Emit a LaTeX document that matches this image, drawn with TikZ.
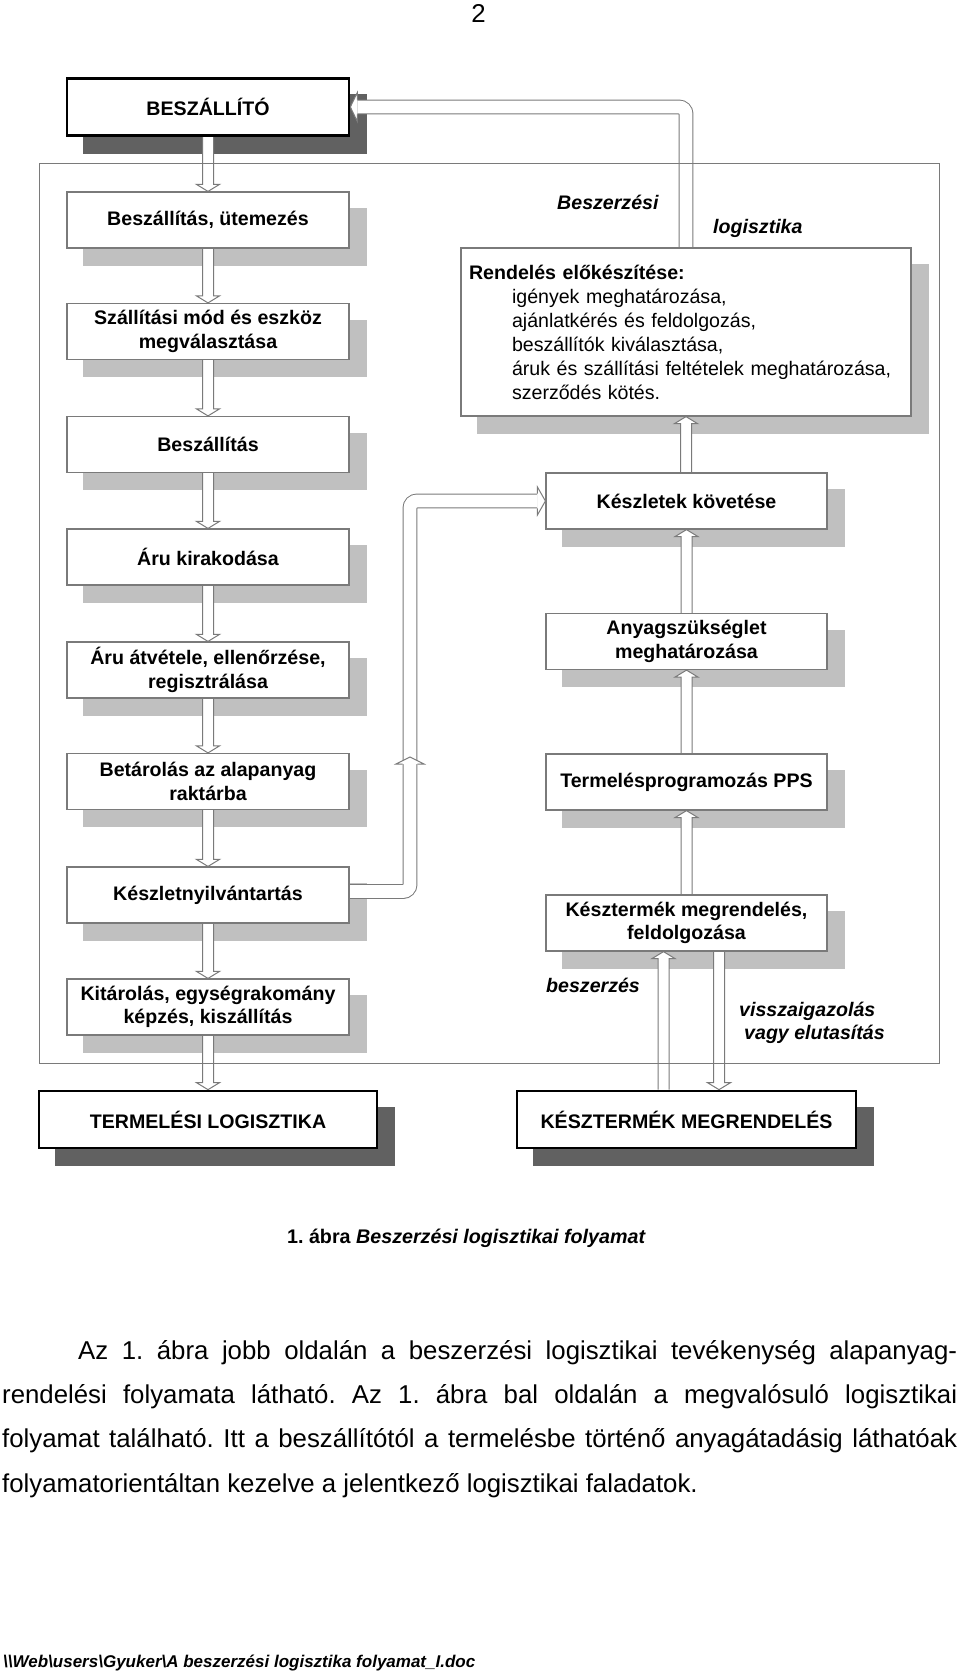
\documentclass[tikz,border=0pt]{standalone}
\usepackage{fontspec}
\setmainfont{Liberation Sans}
\usetikzlibrary{calc}
\frenchspacing
\definecolor{shl}{HTML}{C0C0C0}
\definecolor{shd}{HTML}{616161}
\definecolor{edge}{HTML}{7A7A7A}
\pgfdeclarelayer{bg}
\pgfdeclarelayer{mid}
\pgfsetlayers{bg,mid,main}
\newcommand\bxfont{\fontsize{19.6}{23.5}\selectfont\bfseries}
\newcommand\darr[2]{\draw[blk] let \p1=(#1), \p2=(#2) in (\x2-5.5pt,\y1) -- (\x2-5.5pt,\y2+7pt) -- (\x2-11.5pt,\y2+7pt) -- (\x2,\y2) -- (\x2+11.5pt,\y2+7pt) -- (\x2+5.5pt,\y2+7pt) -- (\x2+5.5pt,\y1);}
\newcommand\uarr[2]{\draw[blk] let \p1=(#1), \p2=(#2) in (\x2-5.5pt,\y1) -- (\x2-5.5pt,\y2-7pt) -- (\x2-11.5pt,\y2-7pt) -- (\x2,\y2) -- (\x2+11.5pt,\y2-7pt) -- (\x2+5.5pt,\y2-7pt) -- (\x2+5.5pt,\y1);}
\tikzset{
  box/.style={draw=edge, line width=1.2pt, fill=white, minimum width=282pt, minimum height=56pt, inner sep=0pt, align=center, font=\bxfont},
  mainbox/.style={draw=black, line width=2.7pt, fill=white, minimum height=57pt, inner sep=0pt, align=center, font=\bxfont},
  blk/.style={draw=edge, line width=1pt, fill=white, line join=miter},
  fb/.style={draw=edge, line width=1pt, double=white, double distance=12.8pt, rounded corners=7pt},
  lbl/.style={font=\fontsize{19.6}{23.5}\selectfont\bfseries\itshape, inner sep=0pt, anchor=base west},
  para/.style={font=\fontsize{25.8}{30}\selectfont, inner sep=0pt, anchor=base west},
}
\begin{document}
\begin{tikzpicture}[x=1pt,y=-1pt]
\useasboundingbox (0,0) rectangle (960,1674);
% main boxes
\node[mainbox, minimum width=282pt] (n1) at (208,107) {BESZÁLLÍTÓ};
\node[mainbox, minimum width=338pt] (tl) at (208,1119.5) {TERMELÉSI LOGISZTIKA};
\node[mainbox, minimum width=339pt] (km) at (686.5,1119.5) {KÉSZTERMÉK MEGRENDELÉS};
% left column
\node[box] (l1) at (208,220) {Beszállítás, ütemezés};
\node[box] (l2) at (208,331.5) {Szállítási mód és eszköz\\megválasztása};
\node[box] (l3) at (208,444.5) {Beszállítás};
\node[box] (l4) at (208,557) {Áru kirakodása};
\node[box] (l5) at (208,670) {Áru átvétele, ellenőrzése,\\regisztrálása};
\node[box] (l6) at (208,781.5) {Betárolás az alapanyag\\raktárba};
\node[box] (l7) at (208,895) {Készletnyilvántartás};
\node[box] (l8) at (208,1007) {Kitárolás, egységrakomány\\képzés, kiszállítás};
% right column
\node[box, minimum width=450pt, minimum height=168pt, text width=434pt, align=left, font=\fontsize{19.6}{24}\selectfont] (r0) at (686,332)
  {\textbf{Rendelés előkészítése:}\\
   \hspace*{43pt}igények meghatározása,\\
   \hspace*{43pt}ajánlatkérés és feldolgozás,\\
   \hspace*{43pt}beszállítók kiválasztása,\\
   \hspace*{43pt}áruk és szállítási feltételek meghatározása,\\
   \hspace*{43pt}szerződés kötés.};
\node[box, minimum width=281pt] (r1) at (686.5,501) {Készletek követése};
\node[box, minimum width=281pt] (r2) at (686.5,641.5) {Anyagszükséglet\\meghatározása};
\node[box, minimum width=281pt] (r3) at (686.5,782) {Termelésprogramozás PPS};
\node[box, minimum width=281pt] (r4) at (686.5,923) {Késztermék megrendelés,\\feldolgozása};
% labels
\node[lbl] (t1) at (557,209.5) {Beszerzési};
\node[lbl] (t2) at (713,233.5) {logisztika};
\node[lbl] (t3) at (546,992.5) {beszerzés};
\node[lbl] (t4) at (739,1016) {visszaigazolás};
\node[lbl] (t5) at (744,1039.5) {vagy elutasítás};
% shadows
\begin{pgfonlayer}{bg}
\foreach \n in {l1,l2,l3,l4,l5,l6,l7,l8,r0,r1,r2,r3,r4}
  \fill[shl] ([shift={(17,17)}]\n.south west) rectangle ([shift={(17,17)}]\n.north east);
\foreach \n in {n1,tl,km}
  \fill[shd] ([shift={(17,17)}]\n.south west) rectangle ([shift={(17,17)}]\n.north east);
\end{pgfonlayer}
% connectors
\begin{pgfonlayer}{mid}
\darr{n1.south}{l1.north}
\darr{l1.south}{l2.north}
\darr{l2.south}{l3.north}
\darr{l3.south}{l4.north}
\darr{l4.south}{l5.north}
\darr{l5.south}{l6.north}
\darr{l6.south}{l7.north}
\darr{l7.south}{l8.north}
\darr{l8.south}{tl.north}
\uarr{r1.north}{r0.south}
\uarr{r2.north}{r1.south}
\uarr{r3.north}{r2.south}
\uarr{r4.north}{r3.south}
\coordinate (bu) at (663.5,1000);
\coordinate (bd) at (719,1000);
\uarr{bu |- km.north}{bu |- r4.south}
\darr{bd |- r4.south}{bd |- km.north}
% feedback to supplier
\draw[fb] (r0.north) |- ($(n1.east)+(7,0)$);
\draw[blk] ($(n1.east)+(7,-7.4)$) -- ($(n1.east)+(7,-14.5)$) -- (n1.east) -- ($(n1.east)+(7,14.5)$) -- ($(n1.east)+(7,7.4)$);
% feedback from inventory
\coordinate (fbs) at ($(l7.east)+(0,-3.5)$);
\coordinate (fbv) at (410,0);
\draw[fb] (fbs) -- (fbs -| fbv) -- (fbv |- r1.west) -- ($(r1.west)+(-8,0)$);
\draw[blk] ($(r1.west)+(-8,-7.4)$) -- ($(r1.west)+(-8,-14)$) -- (r1.west) -- ($(r1.west)+(-8,14)$) -- ($(r1.west)+(-8,7.4)$);
\coordinate (fbm) at (410,757);
\draw[blk] ($(fbm)+(-7.4,7)$) -- ($(fbm)+(-14,7)$) -- (fbm) -- ($(fbm)+(14,7)$) -- ($(fbm)+(7.4,7)$);
% frame
\draw[edge, line width=1pt] (39,163) rectangle (939,1063);
\end{pgfonlayer}
% page texts
\node[font=\fontsize{25.8}{30}\selectfont, inner sep=0pt, anchor=base] (pg) at (478.5,22) {2};
\node[font=\fontsize{19.7}{24}\selectfont\bfseries, inner sep=0pt, anchor=base] (cap) at (466.5,1243) {1. ábra \textit{Beszerzési logisztikai folyamat}};
\node[para] (p1) at (78,1359) {\makebox[879pt][s]{Az 1. ábra jobb oldalán a beszerzési logisztikai tevékenység alapanyag-}};
\node[para] (p2) at (2,1403) {\makebox[955pt][s]{rendelési folyamata látható. Az 1. ábra bal oldalán a megvalósuló logisztikai}};
\node[para] (p3) at (2,1447) {\makebox[955pt][s]{folyamat található. Itt a beszállítótól a termelésbe történő anyagátadásig láthatóak}};
\node[para] (p4) at (2,1492) {folyamatorientáltan kezelve a jelentkező logisztikai faladatok.};
\node[font=\fontsize{17}{20}\selectfont\bfseries\itshape, inner sep=0pt, anchor=base west] (ft) at (3,1667) {\textbackslash\textbackslash Web\textbackslash users\textbackslash Gyuker\textbackslash A beszerzési logisztika folyamat\_I.doc};
\end{tikzpicture}
\end{document}
